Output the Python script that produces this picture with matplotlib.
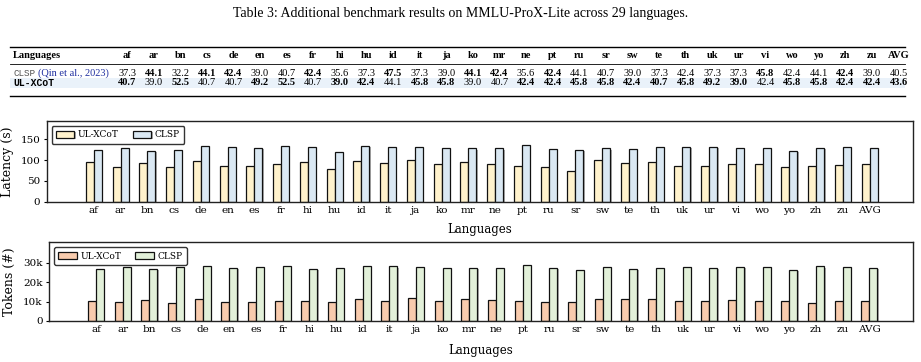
import matplotlib
matplotlib.use("Agg")
import matplotlib.pyplot as plt
import matplotlib.patheffects as pe
from matplotlib.patches import Rectangle
from matplotlib.lines import Line2D
from matplotlib.ticker import FuncFormatter
import numpy as np

# ---------------- data ----------------
languages = ["af", "ar", "bn", "cs", "de", "en", "es", "fr", "hi", "hu", "id", "it", "ja", "ko", "mr",
             "ne", "pt", "ru", "sr", "sw", "te", "th", "uk", "ur", "vi", "wo", "yo", "zh", "zu", "AVG"]

table_clsp = [37.3, 44.1, 32.2, 44.1, 42.4, 39.0, 40.7, 42.4, 35.6, 37.3, 47.5, 37.3, 39.0, 44.1, 42.4,
              35.6, 42.4, 44.1, 40.7, 39.0, 37.3, 42.4, 37.3, 37.3, 45.8, 42.4, 44.1, 42.4, 39.0, 40.5]
table_clsp_bold = [0, 1, 0, 1, 1, 0, 0, 1, 0, 0, 1, 0, 0, 1, 1,
                   0, 1, 0, 0, 0, 0, 0, 0, 0, 1, 0, 0, 1, 0, 0]
table_ul = [40.7, 39.0, 52.5, 40.7, 40.7, 49.2, 52.5, 40.7, 39.0, 42.4, 44.1, 45.8, 45.8, 39.0, 40.7,
            42.4, 42.4, 45.8, 45.8, 42.4, 40.7, 45.8, 49.2, 39.0, 42.4, 45.8, 45.8, 42.4, 42.4, 43.6]
table_ul_bold = [1, 0, 1, 0, 0, 1, 1, 0, 1, 1, 0, 1, 1, 0, 0,
                 1, 1, 1, 1, 1, 1, 1, 1, 1, 0, 1, 1, 1, 1, 1]

latency_ul = [95, 83, 92, 83, 99, 87, 87, 91, 96, 78, 98, 92, 101, 91, 95,
              91, 87, 83, 75, 101, 92, 95, 87, 86, 90, 91, 83, 87, 89, 90]
latency_clsp = [124, 128, 122, 124, 133, 131, 129, 134, 131, 120, 133, 131, 132, 128, 128,
                128, 137, 127, 124, 128, 127, 132, 132, 131, 128, 129, 123, 129, 132, 129]

tokens_ul = [10500, 9800, 10800, 9100, 11100, 9900, 9900, 10100, 10500, 9600, 11500, 10100, 11700, 10500, 11100,
             10600, 10100, 9900, 9600, 11100, 11100, 11100, 10500, 10100, 10600, 10500, 10100, 9400, 10100, 10500]
tokens_clsp = [26900, 27800, 26600, 27600, 28300, 27100, 28000, 28500, 26900, 27400, 28100, 28100, 27600, 27400, 27400,
               27100, 28800, 27400, 26400, 27600, 26800, 27100, 27600, 27400, 28000, 27800, 26200, 28100, 27600, 27400]

series_names = ["UL-XCoT", "CLSP"]
caption = "Table 3: Additional benchmark results on MMLU-ProX-Lite across 29 languages."

# ---------------- figure ----------------
W, H = 921, 362
fig = plt.figure(figsize=(W / 100, H / 100), dpi=100)

SERIF = ["Liberation Serif", "DejaVu Serif"]
CHART_SERIF = ["DejaVu Serif"]
MONO = ["Liberation Mono", "DejaVu Sans Mono"]

# overlay axes in pixel coordinates for caption + table
ov = fig.add_axes([0, 0, 1, 1])
ov.set_xlim(0, W)
ov.set_ylim(H, 0)
ov.axis("off")

ov.text(W / 2, 14, caption, ha="center", va="center", fontsize=10, family=SERIF)

x0, x1 = 10, 905
ov.add_line(Line2D([x0, x1], [47.3, 47.3], color="black", lw=1.0))
ov.add_line(Line2D([x0, x1], [64.3, 64.3], color="black", lw=0.6))
ov.add_line(Line2D([x0, x1], [96.0, 96.0], color="black", lw=1.0))
ov.add_patch(Rectangle((x0, 78.3), x1 - x0, 9.2, facecolor="#EAF2FA", edgecolor="none", zorder=0))

col_x = np.linspace(127, 898.5, len(languages))
fs = 7.5
ov.text(13, 56, "Languages", ha="left", va="center", fontsize=fs, fontweight="bold", family=SERIF)
for cx, lab in zip(col_x, languages):
    ov.text(cx, 56, lab, ha="center", va="center", fontsize=fs, fontweight="bold", family=SERIF)

ov.text(13, 73.5, "CLSP", ha="left", va="center", fontsize=6.7, family=MONO, color="#555555")
ov.text(37.5, 73.5, "(Qin et al., 2023)", ha="left", va="center", fontsize=fs, family=SERIF, color="#1f2fa0")
ov.text(13, 82.8, "UL-XCoT", ha="left", va="center", fontsize=7.0, family=MONO, fontweight="bold")
for cx, v, b in zip(col_x, table_clsp, table_clsp_bold):
    ov.text(cx, 73.5, f"{v:.1f}", ha="center", va="center", fontsize=fs, family=SERIF,
            fontweight="bold" if b else "normal")
for cx, v, b in zip(col_x, table_ul, table_ul_bold):
    ov.text(cx, 82.8, f"{v:.1f}", ha="center", va="center", fontsize=fs, family=SERIF,
            fontweight="bold" if b else "normal")

# ---------------- bar charts ----------------
def px_rect(left, top, right, bottom):
    return [left / W, 1 - bottom / H, (right - left) / W, (bottom - top) / H]

shadow = [pe.SimplePatchShadow(offset=(1.0, -0.8), shadow_rgbFace="#777777", alpha=0.6), pe.Normal()]

def bar_chart(rect, ul, clsp, colors, ylabel, ylim, yticks, xlabelpad, fmt=None):
    ax = fig.add_axes(rect)
    x = np.arange(len(languages))
    w = 0.3
    b1 = ax.bar(x - w / 2, ul, w, color=colors[0], edgecolor="#111111", linewidth=0.9,
                label=series_names[0], zorder=2)
    b2 = ax.bar(x + w / 2, clsp, w, color=colors[1], edgecolor="#111111", linewidth=0.9,
                label=series_names[1], zorder=2)
    for p in list(b1) + list(b2):
        p.set_path_effects(shadow)
    ax.set_xlim(-1.76, len(languages) - 1 + 1.62)
    ax.set_ylim(*ylim)
    ax.set_yticks(yticks)
    if fmt is not None:
        ax.yaxis.set_major_formatter(FuncFormatter(fmt))
    ax.set_xticks(x)
    ax.set_xticklabels(languages)
    for lab in ax.get_xticklabels() + ax.get_yticklabels():
        lab.set_family(CHART_SERIF)
        lab.set_fontsize(7.5)
    ax.tick_params(axis="x", length=0, pad=3)
    ax.tick_params(axis="y", length=2.5, width=0.8, pad=2)
    ax.set_xlabel("Languages", family=CHART_SERIF, fontsize=8.5, labelpad=xlabelpad)
    ax.set_ylabel(ylabel, family=CHART_SERIF, fontsize=9, labelpad=5)
    for s in ax.spines.values():
        s.set_linewidth(1.0)
        s.set_color("#222222")
    leg = ax.legend(loc="upper left", ncol=2, prop={"family": CHART_SERIF, "size": 6.5},
                    frameon=True, fancybox=True, edgecolor="black", handlelength=2.0, handleheight=0.8,
                    handletextpad=0.4, columnspacing=1.6, borderpad=0.5, borderaxespad=0.55)
    leg.get_frame().set_linewidth(1.0)
    return ax

bar_chart(px_rect(46.7, 121, 913, 201.7), latency_ul, latency_clsp, ["#FFF2CC", "#DAE8F3"],
          "Latency (s)", (0, 194), [0, 50, 100, 150], xlabelpad=6)

bar_chart(px_rect(49, 242.3, 912.7, 321), tokens_ul, tokens_clsp, ["#F8CBAD", "#E2F0D9"],
          "Tokens (#)", (0, 40500), [0, 10000, 20000, 30000], xlabelpad=7,
          fmt=lambda v, p: "0" if v == 0 else f"{int(v / 1000)}k")

fig.savefig("out.png", dpi=100)
